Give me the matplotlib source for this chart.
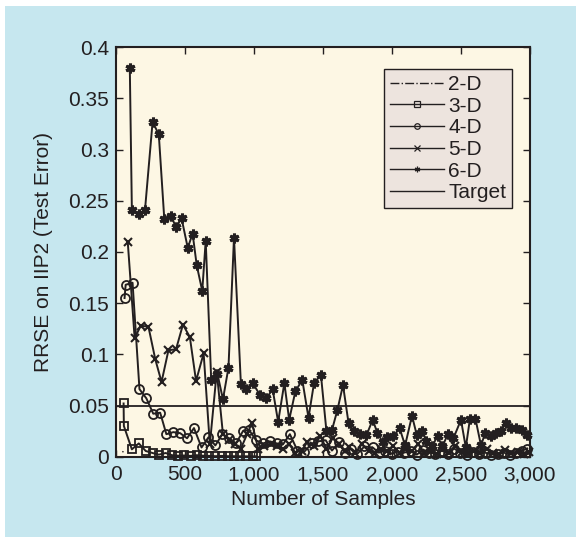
import matplotlib
matplotlib.use("Agg")
import matplotlib.pyplot as plt
from matplotlib.patches import Rectangle

plt.rcParams['font.family'] = ['Liberation Sans', 'DejaVu Sans']

# ---- data ----
x_2d = [45, 55]
y_2d = [0.005, 0.0048]

x_3d = [55, 57, 115, 165, 215, 265, 310, 360, 405, 450, 495, 540, 585, 630,
        675, 720, 765, 810, 855, 900, 945, 990, 1015]
y_3d = [0.052, 0.030, 0.0072, 0.013, 0.0056, 0.0036, 0.002, 0.0036, 0.0015,
        0.001, 0.0012, 0.0008, 0.0015, 0.001, 0.0008, 0.0005, 0.0008, 0.0005,
        0.0005, 0.0004, 0.0004, 0.0004, 0.0004]

x_4d = [62, 70, 120, 170, 220, 270, 320, 365, 415, 465, 515, 565, 620, 670,
        720, 770, 820, 870, 920, 965, 1015, 1065, 1115, 1165, 1210, 1260,
        1315, 1365, 1420, 1465, 1520, 1565, 1615, 1660, 1705, 1750, 1800,
        1860, 1905, 1950, 2000, 2045, 2090, 2135, 2180, 2225, 2270, 2315,
        2360, 2405, 2450, 2495, 2540, 2585, 2630, 2675, 2720, 2765, 2810,
        2855, 2900, 2945, 2980]
y_4d = [0.155, 0.168, 0.170, 0.066, 0.057, 0.042, 0.043, 0.022, 0.024,
        0.023, 0.018, 0.028, 0.009, 0.019, 0.011, 0.022, 0.018, 0.013,
        0.025, 0.026, 0.016, 0.013, 0.015, 0.013, 0.012, 0.022, 0.006,
        0.005, 0.013, 0.015, 0.016, 0.006, 0.014, 0.004, 0.008, 0.003,
        0.010, 0.009, 0.004, 0.006, 0.003, 0.005, 0.004, 0.006, 0.002,
        0.007, 0.004, 0.003, 0.006, 0.003, 0.008, 0.004, 0.002, 0.005,
        0.003, 0.004, 0.002, 0.003, 0.004, 0.002, 0.004, 0.006, 0.008]

x_5d = [85, 135, 180, 235, 285, 330, 380, 435, 485, 535, 580, 635, 680,
        730, 775, 820, 865, 905, 950, 985, 1030, 1075, 1120, 1165, 1210,
        1255, 1300, 1345, 1385, 1435, 1480, 1525, 1570, 1615, 1660, 1685,
        1735, 1780, 1830, 1875, 1920, 1965, 2010, 2055, 2100, 2145, 2190,
        2235, 2280, 2325, 2370, 2415, 2460, 2505, 2550, 2595, 2640, 2685,
        2730, 2775, 2820, 2865, 2910, 2955, 2990]
y_5d = [0.210, 0.116, 0.128, 0.127, 0.095, 0.073, 0.104, 0.105, 0.129,
        0.117, 0.074, 0.101, 0.012, 0.083, 0.022, 0.016, 0.012, 0.008,
        0.022, 0.033, 0.008, 0.010, 0.012, 0.010, 0.008, 0.012, 0.004,
        0.006, 0.014, 0.010, 0.020, 0.008, 0.018, 0.012, 0.006, 0.009,
        0.004, 0.012, 0.006, 0.004, 0.008, 0.006, 0.010, 0.004, 0.008,
        0.006, 0.012, 0.004, 0.006, 0.003, 0.008, 0.004, 0.010, 0.005,
        0.003, 0.006, 0.004, 0.008, 0.004, 0.003, 0.007, 0.004, 0.005,
        0.003, 0.005]

x_6d = [100, 115, 165, 210, 265, 310, 350, 400, 435, 475, 520, 555, 585,
        625, 650, 690, 735, 775, 815, 855, 905, 940, 990, 1045, 1090, 1135,
        1175, 1220, 1255, 1300, 1350, 1395, 1435, 1485, 1525, 1565, 1605,
        1645, 1685, 1725, 1770, 1815, 1860, 1895, 1935, 1965, 2010, 2055,
        2095, 2145, 2180, 2220, 2250, 2290, 2330, 2365, 2405, 2445, 2500,
        2535, 2565, 2605, 2645, 2675, 2715, 2755, 2790, 2825, 2865, 2900,
        2940, 2980]
y_6d = [0.380, 0.241, 0.237, 0.241, 0.327, 0.315, 0.232, 0.235, 0.224,
        0.233, 0.204, 0.218, 0.187, 0.162, 0.211, 0.075, 0.081, 0.056,
        0.087, 0.214, 0.071, 0.066, 0.072, 0.060, 0.057, 0.066, 0.034,
        0.072, 0.036, 0.064, 0.075, 0.038, 0.072, 0.080, 0.025, 0.026,
        0.046, 0.070, 0.033, 0.025, 0.022, 0.021, 0.036, 0.023, 0.014,
        0.019, 0.020, 0.028, 0.011, 0.040, 0.021, 0.025, 0.015, 0.010,
        0.020, 0.010, 0.022, 0.018, 0.036, 0.009, 0.037, 0.037, 0.011,
        0.023, 0.020, 0.023, 0.025, 0.033, 0.028, 0.028, 0.026, 0.021]

target = 0.05

xticks = [0, 500, 1000, 1500, 2000, 2500, 3000]
xtick_labels = ['0', '500', '1,000', '1,500', '2,000', '2,500', '3,000']
yticks = [0, 0.05, 0.1, 0.15, 0.2, 0.25, 0.3, 0.35, 0.4]
ytick_labels = ['0', '0.05', '0.1', '0.15', '0.2', '0.25', '0.3', '0.35', '0.4']

ink = '#231f20'

fig = plt.figure(figsize=(5.76, 5.38), dpi=100, facecolor='white')
# blue panel behind everything
fig.add_artist(Rectangle((5 / 576, 1 / 538), 571 / 576, 531 / 538,
                         transform=fig.transFigure, facecolor='#c6e7ef',
                         edgecolor='none', zorder=-10))

ax = fig.add_axes([0.2014, 0.1511, 0.7187, 0.761])
ax.set_facecolor('#fdf7e4')

lw = 1.4
ax.plot(x_2d, y_2d, '-.', color=ink, lw=1.0, label='2-D', clip_on=False)
ax.plot(x_3d, y_3d, '-', color=ink, lw=lw, marker='s', ms=6,
        fillstyle='none', mew=1.3, label='3-D', clip_on=False)
ax.plot(x_4d, y_4d, '-', color=ink, lw=lw, marker='o', ms=6.5,
        fillstyle='none', mew=1.3, label='4-D', clip_on=False)
ax.plot(x_5d, y_5d, '-', color=ink, lw=lw, marker='x', ms=6,
        mew=1.5, label='5-D', clip_on=False)
ax.plot(x_6d, y_6d, '-', color=ink, lw=lw, marker=(6, 2, 0), ms=7,
        mew=2.2, label='6-D', clip_on=False)
ax.axhline(target, color=ink, lw=1.3, label='Target')

ax.set_xlim(0, 3000)
ax.set_ylim(0, 0.4)
ax.set_xticks(xticks)
ax.set_xticklabels(xtick_labels)
ax.set_yticks(yticks)
ax.set_yticklabels(ytick_labels)
ax.tick_params(direction='in', length=5, width=1, colors=ink,
               labelsize=15, top=True, right=True)
ax.tick_params(axis='x', pad=6)
ax.tick_params(axis='y', pad=5)
for s in ax.spines.values():
    s.set_color(ink)
    s.set_linewidth(1.5)

ax.set_xlabel('Number of Samples', fontsize=15, color=ink, labelpad=4)
ax.set_ylabel('RRSE on IIP2 (Test Error)', fontsize=15, color=ink, labelpad=11)

# legend with small hollow markers
handles, labels = ax.get_legend_handles_labels()
leg = ax.legend(handles, labels, loc='upper right',
                bbox_to_anchor=(0.9565, 0.947), borderaxespad=0,
                fontsize=15, frameon=True, fancybox=False,
                handlelength=2.6, handletextpad=0.2, labelspacing=0.13,
                borderpad=0.28)
leg.get_frame().set_facecolor('#ede4de')
leg.get_frame().set_edgecolor(ink)
leg.get_frame().set_linewidth(1.0)
leg.get_frame().set_alpha(1)
for h in leg.legend_handles:
    h.set_markersize(4)
    h.set_markeredgewidth(0.9)
    h.set_linewidth(1.0)
for t in leg.get_texts():
    t.set_color(ink)

fig.savefig('out.png', dpi=100, facecolor=fig.get_facecolor())
